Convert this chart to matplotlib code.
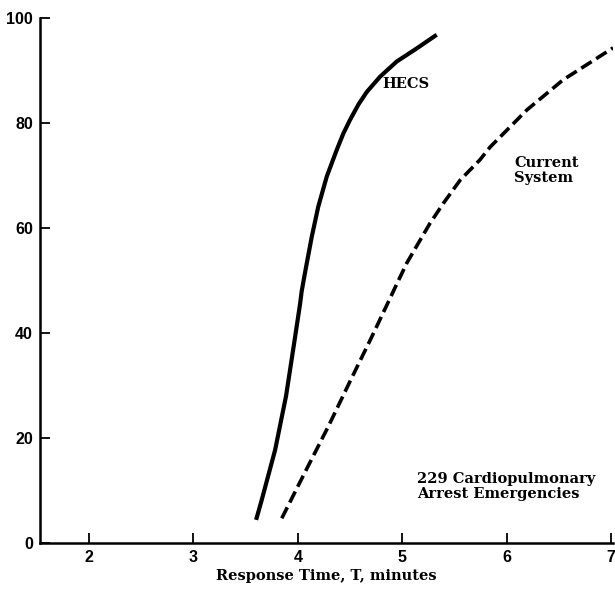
import matplotlib
matplotlib.use("Agg")
import matplotlib.pyplot as plt

# values (response time in minutes, cumulative %)
hecs_t = [3.60, 3.654, 3.782, 3.887, 3.964, 4.021, 4.037, 4.079, 4.133, 4.196,
          4.277, 4.373, 4.436, 4.500, 4.580, 4.660, 4.787, 4.947, 5.139, 5.330]
hecs_pct = [4.4, 8.2, 17.7, 28.0, 38.0, 45.5, 48.0, 52.6, 58.3, 64.1,
            69.8, 74.9, 78.0, 80.6, 83.5, 85.9, 88.8, 91.7, 94.2, 96.8]

current_t = [3.846, 4.069, 4.292, 4.500, 4.692, 4.852, 4.947, 5.043, 5.154, 5.266,
             5.394, 5.554, 5.745, 5.841, 6.195, 6.540, 7.019]
current_pct = [4.7, 13.5, 22.2, 30.8, 38.6, 45.3, 49.3, 53.3, 57.1, 60.9,
               64.7, 69.1, 73.0, 75.4, 82.5, 88.2, 94.3]

x_ticks = [2, 3, 4, 5, 6, 7]
y_ticks = [0, 20, 40, 60, 80, 100]

text_font = "DejaVu Serif"
tick_font = "Liberation Sans"

fig = plt.figure(figsize=(6.15, 5.98), dpi=100)
ax = fig.add_axes([0.065, 0.092, 0.932, 0.878])

ax.plot(hecs_t, hecs_pct, color="black", lw=3.0, solid_capstyle="butt",
        solid_joinstyle="round")
ax.plot(current_t, current_pct, color="black", lw=2.6, dashes=(3.4, 1.5),
        dash_joinstyle="round")

ax.set_xlim(1.53, 7.02)
ax.set_ylim(0, 100)

for side in ("top", "right"):
    ax.spines[side].set_visible(False)
for side in ("left", "bottom"):
    ax.spines[side].set_linewidth(1.8)

ax.set_xticks(x_ticks)
ax.set_yticks(y_ticks)
ax.tick_params(direction="in", length=7, width=1.3, pad=5)
ax.set_xticklabels([str(v) for v in x_ticks])
ax.set_yticklabels([str(v) for v in y_ticks])
for lab in ax.get_xticklabels() + ax.get_yticklabels():
    lab.set_fontfamily(tick_font)
    lab.set_fontweight("bold")
    lab.set_fontsize(11.5)

txt = dict(fontfamily=text_font, fontsize=10.5, fontweight="bold")
ax.text(4.81, 87.5, "HECS", va="center", **txt)
ax.text(6.07, 71.0, "Current\nSystem", va="center", linespacing=1.1, **txt)
ax.text(5.14, 10.7, "229 Cardiopulmonary\nArrest Emergencies", va="center",
        linespacing=1.1, **txt)

ax.set_xlabel("Response Time, T, minutes", labelpad=3, **txt)

fig.savefig("out.png", dpi=100)
